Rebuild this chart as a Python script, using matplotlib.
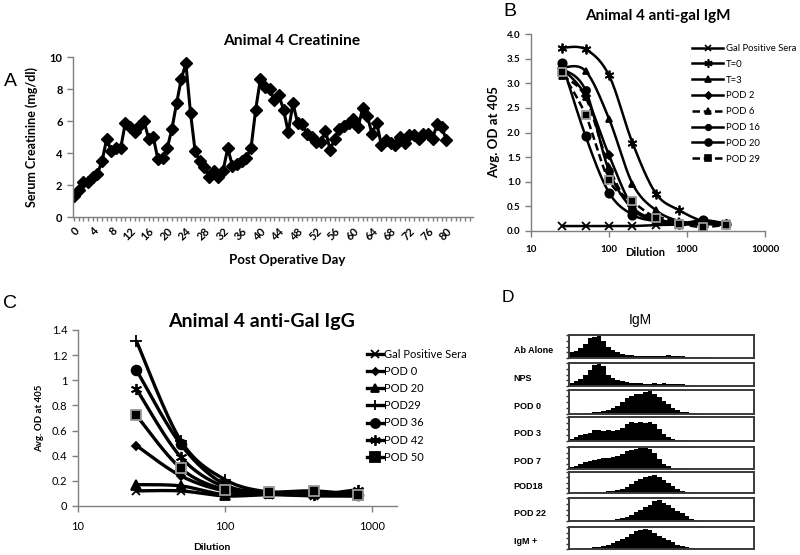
import matplotlib
matplotlib.use('Agg')
import matplotlib.pyplot as plt
import numpy as np
from matplotlib.lines import Line2D

# ---- Panel A: serum creatinine by post operative day
days = list(range(81))
creatinine = [1.3, 1.7, 2.2, 2.2, 2.5, 2.7, 3.5, 4.9, 4.1, 4.3,
              4.3, 5.9, 5.6, 5.3, 5.7, 6.0, 4.9, 5.0, 3.6, 3.7,
              4.3, 5.5, 7.1, 8.6, 9.6, 6.5, 4.1, 3.5, 3.1, 2.5,
              2.9, 2.5, 2.9, 4.3, 3.2, 3.3, 3.5, 3.7, 4.3, 6.7,
              8.6, 8.1, 8.0, 7.3, 7.6, 6.7, 5.3, 7.1, 5.9, 5.8,
              5.2, 5.0, 4.7, 4.7, 5.4, 4.2, 4.9, 5.5, 5.7, 5.9,
              6.1, 5.6, 6.8, 6.3, 5.2, 5.9, 4.5, 4.8, 4.6, 4.5,
              5.0, 4.6, 5.1, 5.1, 4.9, 5.2, 5.2, 4.9, 5.8, 5.6,
              4.8]

# ---- Panel B: anti-gal IgM titration
igm_dilution = [25, 50, 100, 200, 400, 800, 1600, 3200]
igm_labels = ['Gal Positive Sera', 'T=0', 'T=3', 'POD 2', 'POD 6', 'POD 16', 'POD 20', 'POD 29']
igm_gal_pos = [0.10, 0.10, 0.10, 0.10, 0.12, 0.13, 0.14, 0.14]
igm_t0 = [3.72, 3.69, 3.16, 1.79, 0.76, 0.42, 0.20, 0.15]
igm_t3 = [3.32, 3.25, 2.28, 0.96, 0.42, 0.20, 0.15, 0.13]
igm_pod2 = [3.30, 2.75, 1.54, 0.50, 0.25, 0.16, 0.15, 0.13]
igm_pod6 = [3.15, 2.72, 1.30, 0.45, 0.30, 0.18, 0.15, 0.13]
igm_pod16 = [3.30, 2.86, 1.22, 0.45, 0.20, 0.15, 0.20, 0.15]
igm_pod20 = [3.41, 1.93, 0.78, 0.33, 0.20, 0.15, 0.22, 0.15]
igm_pod29 = [3.22, 2.36, 1.03, 0.60, 0.27, 0.15, 0.08, 0.13]

# ---- Panel C: anti-Gal IgG titration
igg_dilution = [25, 50, 100, 200, 400, 800]
igg_labels = ['Gal Positive Sera', 'POD 0', 'POD 20', 'POD29', 'POD 36', 'POD 42', 'POD 50']
igg_gal_pos = [0.12, 0.12, 0.08, 0.09, 0.08, 0.08]
igg_pod0 = [0.48, 0.24, 0.12, 0.10, 0.09, 0.08]
igg_pod20 = [0.17, 0.16, 0.09, 0.10, 0.10, 0.09]
igg_pod29 = [1.31, 0.52, 0.21, 0.11, 0.10, 0.10]
igg_pod36 = [1.08, 0.49, 0.17, 0.11, 0.10, 0.09]
igg_pod42 = [0.93, 0.39, 0.15, 0.10, 0.09, 0.13]
igg_pod50 = [0.72, 0.30, 0.13, 0.11, 0.12, 0.09]

# ---- Panel D: IgM flow histograms (relative counts, 40 bins across the box)
hist_labels = ['Ab Alone', 'NPS', 'POD 0', 'POD 3', 'POD 7', 'POD18', 'POD 22', 'IgM +']
hist_ab_alone = [0.25, 0.3, 0.45, 0.6, 0.85, 0.9, 1.0, 0.75, 0.5, 0.35, 0.25, 0.18, 0.15, 0.12,
                 0.1, 0.1, 0.08, 0.08, 0.1, 0.08, 0.1, 0.12, 0.1, 0.08, 0.08, 0.06, 0.05, 0.05,
                 0.04, 0.03, 0.03, 0.02, 0.02, 0.01, 0, 0, 0, 0, 0, 0]
hist_nps = [0.15, 0.2, 0.3, 0.5, 0.7, 0.9, 1.0, 0.85, 0.5, 0.35, 0.25, 0.2, 0.18, 0.15,
            0.12, 0.12, 0.1, 0.1, 0.12, 0.1, 0.12, 0.1, 0.1, 0.08, 0.08, 0.06, 0.05, 0.02,
            0.01, 0, 0, 0, 0, 0, 0, 0, 0, 0, 0, 0]
hist_pod0 = [0.02, 0.02, 0.02, 0.03, 0.05, 0.08, 0.1, 0.12, 0.18, 0.25, 0.35, 0.5, 0.65, 0.75,
             0.85, 0.85, 0.9, 0.95, 0.85, 0.7, 0.55, 0.4, 0.25, 0.15, 0.1, 0.08, 0.05, 0.03,
             0.02, 0.02, 0, 0, 0, 0, 0, 0, 0, 0, 0, 0]
hist_pod3 = [0.08, 0.15, 0.25, 0.3, 0.35, 0.45, 0.45, 0.4, 0.45, 0.4, 0.45, 0.55, 0.7, 0.8,
             0.75, 0.8, 0.75, 0.8, 0.7, 0.5, 0.3, 0.15, 0.08, 0.05, 0.04, 0.03, 0.02, 0.02,
             0.01, 0, 0, 0, 0, 0, 0, 0, 0, 0, 0, 0]
hist_pod7 = [0.08, 0.15, 0.25, 0.3, 0.35, 0.4, 0.45, 0.5, 0.5, 0.55, 0.6, 0.7, 0.8, 0.85,
             0.9, 0.95, 0.95, 0.9, 0.75, 0.45, 0.25, 0.12, 0.06, 0.04, 0.03, 0.02, 0.01, 0,
             0, 0, 0, 0, 0, 0, 0, 0, 0, 0, 0, 0]
hist_pod18 = [0, 0, 0, 0.03, 0.03, 0.04, 0.05, 0.06, 0.08, 0.1, 0.14, 0.2, 0.3, 0.45,
              0.55, 0.65, 0.75, 0.8, 0.85, 0.75, 0.6, 0.5, 0.35, 0.2, 0.1, 0.06, 0.03, 0.02,
              0, 0, 0, 0, 0, 0, 0, 0, 0, 0, 0, 0]
hist_pod22 = [0, 0, 0, 0, 0, 0, 0.02, 0.03, 0.04, 0.06, 0.08, 0.12, 0.18, 0.25,
              0.4, 0.5, 0.6, 0.7, 0.85, 0.9, 0.8, 0.7, 0.55, 0.45, 0.35, 0.2, 0.1, 0.04,
              0.02, 0, 0, 0, 0, 0, 0, 0, 0, 0, 0, 0]
hist_igm_pos = [0.01, 0.02, 0.03, 0.03, 0.05, 0.08, 0.1, 0.12, 0.2, 0.28, 0.35, 0.45, 0.55, 0.7,
                0.8, 0.85, 0.9, 0.85, 0.75, 0.6, 0.5, 0.4, 0.3, 0.2, 0.12, 0.07, 0.04, 0.02,
                0.01, 0, 0, 0, 0, 0, 0, 0, 0, 0, 0, 0]

FONT = 'Lato'
AXIS_GRAY = '#7f7f7f'

W, H = 800, 555
fig = plt.figure(figsize=(8, 5.55), dpi=100)


def px_axes(l, t, r, b):
    # axes from pixel box (left, top, right, bottom)
    return fig.add_axes([l / W, 1 - b / H, (r - l) / W, (b - t) / H])


def excel_smooth(ax, xs, ys, n=30):
    # Excel-style smoothed line (bezier through points) in display space
    pts = ax.transData.transform(np.column_stack([xs, ys]))
    p = np.vstack([pts[0], pts, pts[-1]])
    t = np.linspace(0, 1, n)[:, None]
    out = []
    for i in range(1, len(p) - 2):
        p0, p1, p2, p3 = p[i - 1], p[i], p[i + 1], p[i + 2]
        c1 = p1 + (p2 - p0) / 6
        c2 = p2 - (p3 - p1) / 6
        seg = (1 - t) ** 3 * p1 + 3 * (1 - t) ** 2 * t * c1 + 3 * (1 - t) * t ** 2 * c2 + t ** 3 * p2
        out.append(seg if i == 1 else seg[1:])
    curve = ax.transData.inverted().transform(np.vstack(out))
    return curve[:, 0], curve[:, 1]


def excel_axes_style(ax):
    for s in ['top', 'right']:
        ax.spines[s].set_visible(False)
    for s in ['left', 'bottom']:
        ax.spines[s].set_color(AXIS_GRAY)
        ax.spines[s].set_linewidth(1.0)
    ax.tick_params(color=AXIS_GRAY, direction='out', length=4, width=1.0)


# ================= Panel A =================
axA = px_axes(73, 57, 473, 217)
excel_axes_style(axA)
axA.plot(days, creatinine, color='black', lw=2.2, marker='D', ms=6, mfc='black', mec='black')
axA.set_xlim(-0.25, 85.7)
axA.set_ylim(0, 10)
axA.set_yticks([0, 2, 4, 6, 8, 10])
axA.set_xticks(range(0, 86))
axA.set_xticklabels([str(d) if d % 4 == 0 and d <= 80 else '' for d in range(0, 86)],
                    rotation=45, ha='right', va='top', rotation_mode='anchor')
axA.tick_params(axis='x', length=3, pad=3)
for lab in axA.get_xticklabels() + axA.get_yticklabels():
    lab.set_fontfamily(FONT)
    lab.set_fontweight('bold')
    lab.set_fontsize(8)
axA.set_ylabel('Serum Creatinine (mg/dl)', fontfamily=FONT, fontweight='bold', fontsize=9, labelpad=8)
fig.text(287 / W, 1 - 260 / H, 'Post Operative Day', fontfamily=FONT, fontweight='bold',
         fontsize=9.5, ha='center', va='center')
fig.text(292 / W, 1 - 41 / H, 'Animal 4 Creatinine', fontfamily=FONT, fontweight='bold',
         fontsize=11.2, ha='center', va='center')

# ================= Panel B =================
axB = px_axes(531, 34, 765, 231)
excel_axes_style(axB)
axB.set_xscale('log')
axB.set_xlim(10, 10000)
axB.set_ylim(0, 4)
axB.set_yticks(np.arange(0, 4.01, 0.5))
axB.set_yticklabels(['%.1f' % v for v in np.arange(0, 4.01, 0.5)])
axB.set_xticks([10, 100, 1000, 10000])
axB.set_xticklabels(['10', '100', '1000', '10000'])
axB.minorticks_off()
axB.tick_params(axis='x', length=4, pad=6)
for lab in axB.get_xticklabels() + axB.get_yticklabels():
    lab.set_fontfamily(FONT)
    lab.set_fontweight('bold')
    lab.set_fontsize(7)

igm_series = [igm_gal_pos, igm_t0, igm_t3, igm_pod2, igm_pod6, igm_pod16, igm_pod20, igm_pod29]
igm_markers = ['x', (6, 2, 0), '^', 'D', '^', 'o', 'o', 's']
igm_msize = [6, 7, 5, 4.5, 5, 5, 6, 6]
igm_styles = ['-', '-', '-', '-', (0, (3, 1.5)), '-', '-', (0, (3, 1.5))]
handlesB = []
for vals, mk, ms, ls in zip(igm_series, igm_markers, igm_msize, igm_styles):
    cx, cy = excel_smooth(axB, igm_dilution, vals)
    axB.plot(cx, cy, color='black', lw=1.8, ls=ls, solid_capstyle='round')
    mec = '#9a9a9a' if mk == 's' else 'black'
    axB.plot(igm_dilution, vals, ls='none', marker=mk, ms=ms, mfc='black', mec=mec, mew=1.3)
    handlesB.append(Line2D([], [], color='black', lw=1.8, ls=ls, marker=mk, ms=ms - 1,
                           mfc='black', mec='black', mew=1.2))
legB = axB.legend(handlesB, igm_labels, loc='upper left', bbox_to_anchor=(692 / W, 1 - 44 / H),
                  bbox_transform=fig.transFigure, frameon=False, handlelength=3.3,
                  handletextpad=0.3, labelspacing=0.72, borderpad=0, borderaxespad=0,
                  prop={'family': FONT, 'size': 6.8})
axB.set_ylabel('Avg. OD at 405', fontfamily=FONT, fontweight='bold', fontsize=9.5, labelpad=5)
fig.text(645 / W, 1 - 252 / H, 'Dilution', fontfamily=FONT, fontweight='bold',
         fontsize=8, ha='center', va='center')
fig.text(658 / W, 1 - 16 / H, 'Animal 4 anti-gal IgM', fontfamily=FONT, fontweight='bold',
         fontsize=11, ha='center', va='center')

# ================= Panel C =================
axC = px_axes(78, 330, 397, 506)
excel_axes_style(axC)
axC.set_xscale('log')
axC.set_xlim(10, 10 ** 3.17)
axC.set_ylim(0, 1.4)
axC.set_yticks(np.arange(0, 1.41, 0.2))
axC.set_yticklabels(['0', '0.2', '0.4', '0.6', '0.8', '1', '1.2', '1.4'])
axC.set_xticks([10, 100, 1000])
axC.set_xticklabels(['10', '100', '1000'])
axC.minorticks_off()
axC.tick_params(axis='x', length=4, pad=7)
for lab in axC.get_xticklabels() + axC.get_yticklabels():
    lab.set_fontfamily(FONT)
    lab.set_fontsize(8)

igg_series = [igg_gal_pos, igg_pod0, igg_pod20, igg_pod29, igg_pod36, igg_pod42, igg_pod50]
igg_markers = ['x', 'D', '^', '+', 'o', (6, 2, 0), 's']
igg_msize = [6, 4, 6.5, 8, 7, 8, 7]
handlesC = []
for vals, mk, ms in zip(igg_series, igg_markers, igg_msize):
    cx, cy = excel_smooth(axC, igg_dilution, vals)
    axC.plot(cx, cy, color='black', lw=2.4, solid_capstyle='round')
    mec = '#9a9a9a' if mk == 's' else 'black'
    axC.plot(igg_dilution, vals, ls='none', marker=mk, ms=ms, mfc='black', mec=mec, mew=1.3)
    handlesC.append(Line2D([], [], color='black', lw=2.4, marker=mk, ms=ms - 0.5,
                           mfc='black', mec='black', mew=1.3))
legC = axC.legend(handlesC, igg_labels, loc='upper left', bbox_to_anchor=(367 / W, 1 - 349 / H),
                  bbox_transform=fig.transFigure, frameon=False, handlelength=1.45,
                  handletextpad=0.05, labelspacing=0.55, borderpad=0, borderaxespad=0,
                  prop={'family': FONT, 'size': 8})
axC.set_ylabel('Avg. OD at 405', fontfamily=FONT, fontweight='bold', fontsize=7, labelpad=6)
fig.text(212 / W, 1 - 547 / H, 'Dilution', fontfamily=FONT, fontweight='bold',
         fontsize=7.5, ha='center', va='center')
fig.text(262 / W, 1 - 321 / H, 'Animal 4 anti-Gal IgG', fontfamily=FONT, fontweight='bold',
         fontsize=14, ha='center', va='center')

# ================= Panel D =================
hist_rows = [hist_ab_alone, hist_nps, hist_pod0, hist_pod3, hist_pod7, hist_pod18, hist_pod22, hist_igm_pos]
row_boxes = [(335, 358), (363, 386), (390, 414), (417, 441), (447, 469), (472, 493), (498, 521), (527, 549)]
for vals, label, (top, bot) in zip(hist_rows, hist_labels, row_boxes):
    ax = px_axes(569, top, 754, bot)
    edges = np.arange(len(vals) + 1)
    ax.stairs(vals, edges, fill=True, color='black')
    ax.set_xlim(0, len(vals))
    ax.set_ylim(0, 1.0)
    ax.set_xticks([])
    ax.set_yticks([0, 0.25, 0.5, 0.75, 1.0])
    ax.set_yticklabels([])
    ax.tick_params(axis='y', length=2, width=1.0, color='#333333')
    for s in ax.spines.values():
        s.set_color('#3a3a3a')
        s.set_linewidth(1.4)
    ax.text(-0.298, 0.32, label, transform=ax.transAxes, fontfamily='Liberation Sans',
            fontweight='bold', fontsize=6.5, ha='left', va='center')
fig.text(640 / W, 1 - 320 / H, 'IgM', fontfamily='Liberation Sans', fontsize=10,
         ha='center', va='center')

# ---- panel letters
for letter, x, y, size in [('A', 10, 82, 14), ('B', 510, 12, 14), ('C', 10, 304, 14), ('D', 508, 298, 12.5)]:
    fig.text(x / W, 1 - y / H, letter, fontfamily='Liberation Sans', fontsize=size,
             ha='center', va='center')

fig.savefig('out.png', dpi=100, facecolor='white')
